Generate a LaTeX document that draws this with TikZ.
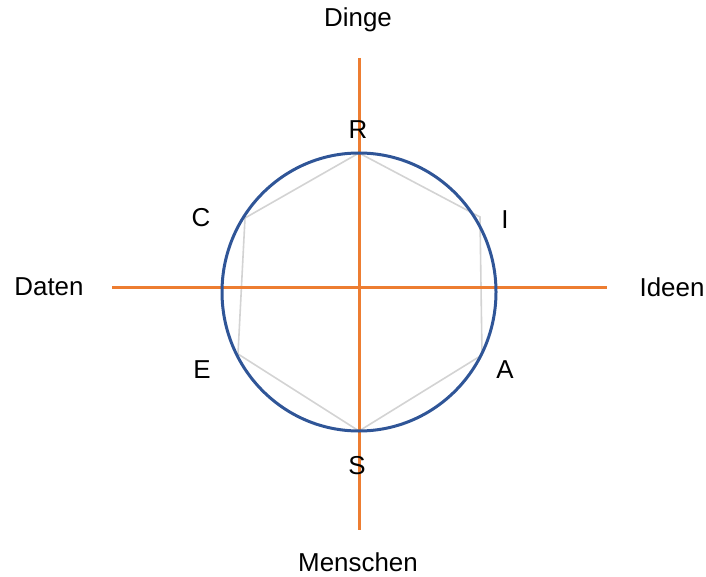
\documentclass[tikz,border=0pt]{standalone}
\usepackage{fontspec}
\setmainfont{Liberation Sans}
\definecolor{axisorange}{HTML}{ED7D31}
\definecolor{circblue}{HTML}{2F5597}
\definecolor{hexgray}{HTML}{D3D3D3}
\begin{document}
\begin{tikzpicture}[x=1bp,y=-1bp,
  lbl/.style={inner sep=0pt,font=\fontsize{26}{30}\selectfont},
  axisline/.style={draw=axisorange,line width=3bp},
  hexline/.style={draw=hexgray,line width=1.6bp},
  circline/.style={draw=circblue,line width=3bp}]
\useasboundingbox (0,0) rectangle (706,577);
% axes end points
\coordinate (top) at (359,58);
\coordinate (bot) at (359,530);
\coordinate (lft) at (112,287);
\coordinate (rgt) at (607,287);
% hexagon vertices
\coordinate (vR) at (359,153);
\coordinate (vI) at (480,217);
\coordinate (vA) at (482,355);
\coordinate (vS) at (359,431);
\coordinate (vE) at (238,354);
\coordinate (vC) at (245,218);
\draw[hexline] (vR) -- (vI) -- (vA) -- (vS) -- (vE) -- (vC) -- cycle;
\draw[axisline] (lft) -- (rgt);
\draw[axisline] (top) -- (bot);
\draw[circline] (359,292) ellipse [x radius=137, y radius=139];
% labels
\node[lbl] (dinge) at (358,20) {Dinge};
\node[lbl] (menschen) at (358,562) {Menschen};
\node[lbl] (daten) at (49,287) {Daten};
\node[lbl] (ideen) at (672,287) {Ideen};
\node[lbl] (R) at (358,130) {R};
\node[lbl] (I) at (505,220) {I};
\node[lbl] (A) at (505,370) {A};
\node[lbl] (S) at (357,466) {S};
\node[lbl] (E) at (202,370) {E};
\node[lbl] (C) at (201,218) {C};
\end{tikzpicture}
\end{document}
